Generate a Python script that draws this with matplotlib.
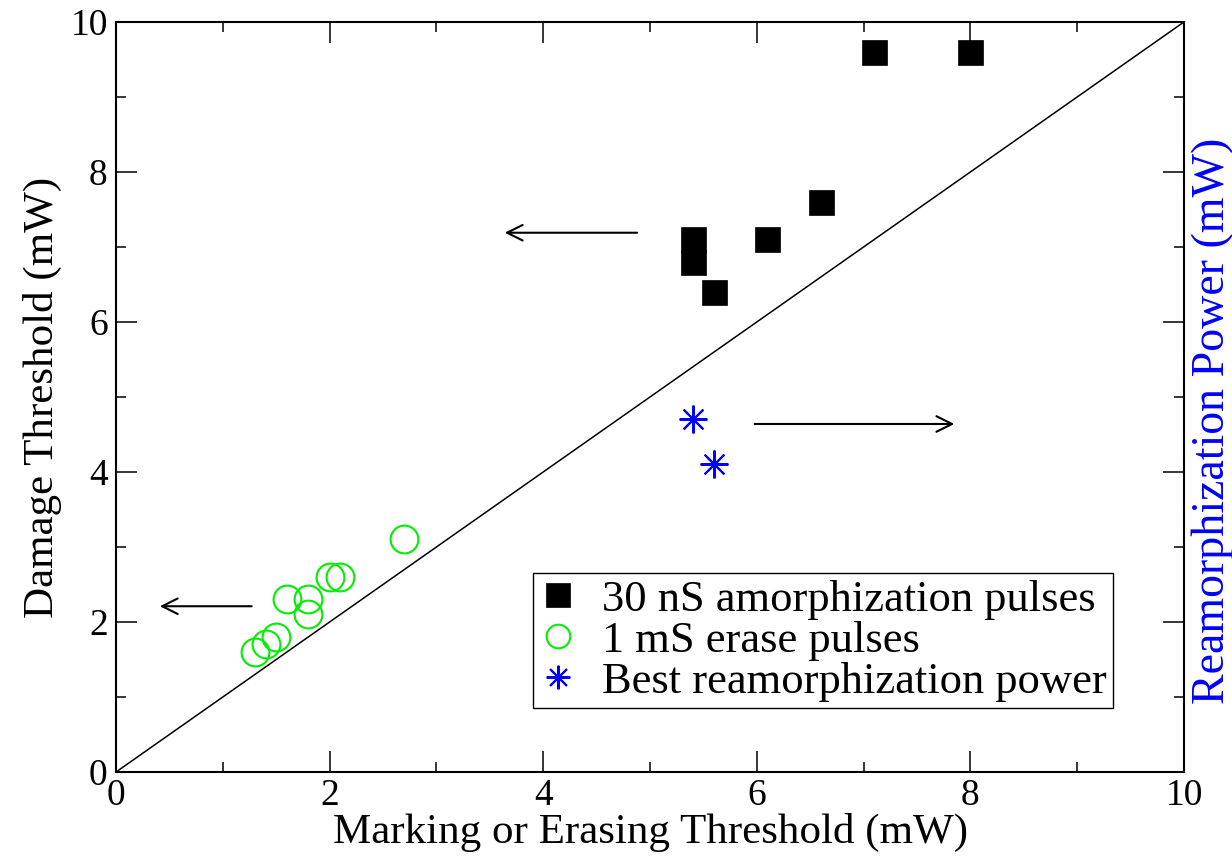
#!/usr/bin/env python3
import matplotlib
matplotlib.use('agg')
import matplotlib.pyplot as plt

plt.rcParams['font.family'] = ['Liberation Serif', 'DejaVu Serif']

# 30 nS amorphization pulses
amor_x = [7.1, 8.0, 6.6, 6.1, 5.4, 5.4, 5.6]
amor_y = [9.6, 9.6, 7.6, 7.1, 7.1, 6.8, 6.4]

# 1 mS erase pulses
erase_x = [1.3, 1.4, 1.5, 1.6, 1.8, 1.8, 2.0, 2.1, 2.7]
erase_y = [1.6, 1.7, 1.8, 2.3, 2.3, 2.1, 2.6, 2.6, 3.1]

# best reamorphization power
ream_x = [5.4, 5.6]
ream_y = [4.7, 4.1]

# arrows: (x_start, x_end, y)
arrows = [(4.88, 3.64, 7.19), (1.27, 0.41, 2.21), (5.98, 7.85, 4.64)]

fig = plt.figure(figsize=(12.32, 8.59), dpi=100)
ax = fig.add_axes([0.0942, 0.1013, 0.8668, 0.8731])

ax.plot([0, 10], [0, 10], color='black', lw=1.1, zorder=1)

ax.plot(amor_x, amor_y, linestyle='none', marker='s', ms=18, mfc='black',
        mec='black', mew=0.5, label='30 nS amorphization pulses', zorder=3)
ax.plot(erase_x, erase_y, linestyle='none', marker='o', ms=20, mfc='none',
        mec='#00ee00', mew=1.5, label='1 mS erase pulses', zorder=3)
ax.plot(ream_x, ream_y, linestyle='none', marker=(8, 2, 0), ms=20,
        color='blue', mew=1.5, label='Best reamorphization power', zorder=3)

for x0, x1, y in arrows:
    ax.annotate('', xy=(x1, y), xytext=(x0, y),
                arrowprops=dict(arrowstyle='->', color='black', lw=1.5,
                                mutation_scale=28, shrinkA=0, shrinkB=0))

ax.set_xlim(0, 10)
ax.set_ylim(0, 10)
ax.set_xticks([0, 2, 4, 6, 8, 10])
ax.set_yticks([0, 2, 4, 6, 8, 10])
ax.set_xticks([1, 3, 5, 7, 9], minor=True)
ax.set_yticks([1, 3, 5, 7, 9], minor=True)
ax.tick_params(which='both', direction='in', top=True, right=True,
               labelsize=27, width=1.1)
ax.tick_params(which='major', length=15)
ax.tick_params(axis='x', which='major', pad=5)
ax.tick_params(axis='y', which='major', pad=6)
ax.tick_params(which='minor', length=7.5)
for s in ax.spines.values():
    s.set_linewidth(1.5)

ax.set_xlabel('Marking or Erasing Threshold (mW)', fontsize=31, labelpad=0)
ax.set_ylabel('Damage Threshold (mW)', fontsize=31, labelpad=6)

fig.text(0.9846, 0.51, 'Reamorphization Power (mW)', fontsize=33,
         color='blue', rotation=90, ha='center', va='center')

leg = ax.legend(loc='lower right', bbox_to_anchor=(0.934, 0.085),
                borderaxespad=0, fontsize=32, frameon=True, fancybox=False,
                edgecolor='black', framealpha=1, handletextpad=0.6,
                labelspacing=0.02, handlelength=0.8, borderpad=0.15)
leg.get_frame().set_linewidth(1.0)
for h in leg.legend_handles:
    h.set_markersize(17)

fig.savefig('out.png', dpi=100)
